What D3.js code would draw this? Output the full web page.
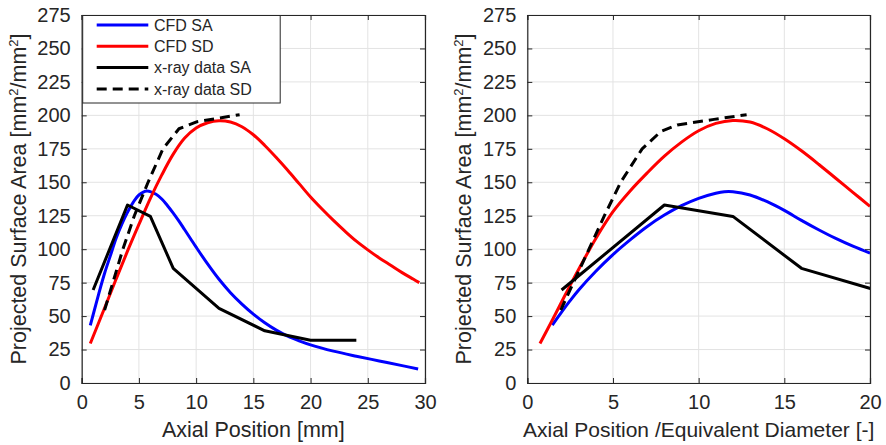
<!DOCTYPE html>
<html>
<head>
<meta charset="utf-8">
<script src="https://cdn.jsdelivr.net/npm/d3@7"></script>
<style>
  body { margin: 0; background: #fff; }
  svg { display: block; }
  text { font-family: "Liberation Sans", Arial, sans-serif; fill: #262626; }
</style>
</head>
<body>
<svg id="chart" width="886" height="445"></svg>
<script>
// y ticks are shared by both panels
const yTicks = d3.range(0, 276, 25);
const xTicksLeft = [0, 5, 10, 15, 20, 25, 30];
const xTicksRight = [0, 5, 10, 15, 20];

const seriesNames = ["CFD SA", "CFD SD", "x-ray data SA", "x-ray data SD"];

// left panel: axial position [mm]
const cfdSaLeftX = [0.75, 1, 1.5, 2, 2.5, 3, 3.5, 4, 4.5, 5, 5.7, 6.5, 7, 7.5, 8, 8.5, 9, 9.5, 10, 11, 12, 13, 14, 15, 16, 17, 18, 19, 20, 22, 24, 26, 28, 29.4];
const cfdSaLeftY = [43, 51, 67, 82, 95, 108, 118.5, 127.5, 135, 140.5, 143.5, 141, 137.5, 132.5, 127, 121, 114.5, 108, 101.5, 89, 77.5, 67.5, 59, 51.5, 45, 39.5, 35, 31.5, 28.5, 23.8, 20, 16.5, 13, 10.5];
const cfdSdLeftX = [0.75, 2, 3, 4, 5, 6, 7, 8, 9, 10, 11, 12, 13, 14, 15, 16, 17, 18, 19, 20, 21, 22, 23, 24, 25, 26, 27, 28, 29, 29.5];
const cfdSdLeftY = [29.5, 56, 77.5, 98.5, 118.5, 138, 155.5, 171, 183, 190.5, 194.5, 196, 195, 191.5, 185.5, 177.5, 168.5, 159, 149, 139, 130, 121.5, 113.5, 106, 99.5, 93.5, 88, 82.5, 77.5, 75];
const xraySaLeftX = [1, 4, 6, 8, 12, 16, 20, 24];
const xraySaLeftY = [69.5, 133, 124.5, 85.7, 55.8, 39, 32, 32];
const xraySdLeftX = [2, 3.6, 4.6, 5.8, 7.1, 8.5, 10.1, 11.9, 13.8];
const xraySdLeftY = [54.5, 100, 125, 150, 175, 190, 195.3, 197.8, 200.5];

// right panel: axial position / equivalent diameter
const cfdSaRightX = [1.46, 2, 2.5, 3, 4, 5, 6, 7, 8, 9, 10, 11, 11.5, 12, 13, 14, 15, 16, 17, 18, 19, 20];
const cfdSaRightY = [43.3, 53, 61.5, 69.5, 83.5, 96, 107, 117, 125.5, 132.5, 138, 141.8, 143, 143, 140.5, 135.5, 129, 121.5, 114.5, 108, 102.2, 97];
const cfdSdRightX = [0.74, 1.5, 2, 2.5, 3, 4, 5, 6, 7, 8, 9, 10, 11, 12, 13, 14, 15, 16, 17, 18, 19, 20];
const cfdSdRightY = [29.5, 48, 60.5, 73, 85, 108, 128, 143.5, 157, 169.5, 180, 188.5, 194, 196.2, 195, 190, 182.5, 173.5, 163.5, 153, 142.5, 132];
const xraySaRightX = [2, 8, 12, 16, 24];
const xraySaRightY = [69.5, 133, 124.5, 85.7, 55.8];
const xraySdRightX = [1.95, 3.6, 4.5, 5.45, 6.7, 7.8, 8.75, 10.9, 12.8];
const xraySdRightY = [54.5, 100, 125, 150, 175, 188, 192.8, 197, 200.5];

const zip = (xs, ys) => xs.map((x, i) => [x, ys[i]]);

const styles = [
  { color: "#0000ff", dash: null, smooth: true },
  { color: "#ff0000", dash: null, smooth: true },
  { color: "#000000", dash: null, smooth: false },
  { color: "#000000", dash: "10,6", smooth: false }
];

const svg = d3.select("#chart");
const axisColor = "#262626";

function drawPanel(p) {
  const { left, right, top, bottom, xMax, xTicks, series, xLabel, yLabelX, id, labelSize } = p;

  const x = d3.scaleLinear().domain([0, xMax]).range([left, right]);
  const y = d3.scaleLinear().domain([0, 275]).range([bottom, top]);

  const g = svg.append("g");

  // grid
  g.append("g").selectAll("line").data(xTicks).join("line")
    .attr("x1", d => x(d)).attr("x2", d => x(d))
    .attr("y1", top).attr("y2", bottom)
    .attr("stroke", "#e3e3e3").attr("stroke-width", 1);
  g.append("g").selectAll("line").data(yTicks).join("line")
    .attr("x1", left).attr("x2", right)
    .attr("y1", d => y(d)).attr("y2", d => y(d))
    .attr("stroke", "#e3e3e3").attr("stroke-width", 1);

  // clip to the axes box
  svg.append("clipPath").attr("id", id)
    .append("rect").attr("x", left).attr("y", top)
    .attr("width", right - left).attr("height", bottom - top);

  const lines = g.append("g").attr("clip-path", `url(#${id})`);
  series.forEach((s, i) => {
    const st = styles[i];
    const line = d3.line()
      .x(d => x(d[0])).y(d => y(d[1]))
      .curve(st.smooth ? d3.curveCatmullRom.alpha(0.5) : d3.curveLinear);
    lines.append("path")
      .datum(s)
      .attr("d", line)
      .attr("fill", "none")
      .attr("stroke", st.color)
      .attr("stroke-width", 3)
      .attr("stroke-linejoin", "round")
      .attr("stroke-dasharray", st.dash);
  });

  // axes, ticks inside like matlab
  const axBottom = g.append("g").attr("transform", `translate(0,${bottom})`)
    .call(d3.axisBottom(x).tickValues(xTicks).tickSize(-5).tickPadding(12).tickFormat(d3.format("d")));
  const axTop = g.append("g").attr("transform", `translate(0,${top})`)
    .call(d3.axisTop(x).tickValues(xTicks).tickSize(-5).tickFormat(""));
  const axLeft = g.append("g").attr("transform", `translate(${left},0)`)
    .call(d3.axisLeft(y).tickValues(yTicks).tickSize(-5).tickPadding(11).tickFormat(d3.format("d")));
  const axRight = g.append("g").attr("transform", `translate(${right},0)`)
    .call(d3.axisRight(y).tickValues(yTicks).tickSize(-5).tickFormat(""));

  [axBottom, axTop, axLeft, axRight].forEach(a => {
    a.select(".domain").attr("stroke", axisColor).attr("stroke-width", 1.2);
    a.selectAll(".tick line").attr("stroke", axisColor);
    a.selectAll("text").attr("font-size", 20).attr("fill", axisColor)
      .attr("font-family", "Liberation Sans, Arial, sans-serif");
  });

  // x label
  g.append("text")
    .attr("x", (left + right) / 2).attr("y", 437)
    .attr("text-anchor", "middle").attr("font-size", labelSize)
    .text(xLabel);

  // y label with superscripts
  const yl = g.append("text")
    .attr("transform", `translate(${yLabelX},${(top + bottom) / 2}) rotate(-90)`)
    .attr("text-anchor", "middle").attr("font-size", 21.5);
  yl.append("tspan").text("Projected Surface Area [mm");
  yl.append("tspan").attr("dy", -8).attr("font-size", 13).text("2");
  yl.append("tspan").attr("dy", 8).text("/mm");
  yl.append("tspan").attr("dy", -8).attr("font-size", 13).text("2");
  yl.append("tspan").attr("dy", 8).text("]");

  return { x, y, g };
}

const leftPanel = drawPanel({
  id: "clipL", left: 81.7, right: 425, top: 15, bottom: 383,
  xMax: 30, xTicks: xTicksLeft, xLabel: "Axial Position [mm]", yLabelX: 26, labelSize: 21.5,
  series: [zip(cfdSaLeftX, cfdSaLeftY), zip(cfdSdLeftX, cfdSdLeftY),
           zip(xraySaLeftX, xraySaLeftY), zip(xraySdLeftX, xraySdLeftY)]
});

drawPanel({
  id: "clipR", left: 527.3, right: 870, top: 15, bottom: 383,
  xMax: 20, xTicks: xTicksRight, xLabel: "Axial Position /Equivalent Diameter [-]", yLabelX: 471, labelSize: 21,
  series: [zip(cfdSaRightX, cfdSaRightY), zip(cfdSdRightX, cfdSdRightY),
           zip(xraySaRightX, xraySaRightY), zip(xraySdRightX, xraySdRightY)]
});

// legend in the left panel
const legend = leftPanel.g.append("g");
legend.append("rect")
  .attr("x", 82.7).attr("y", 15.5).attr("width", 197.5).attr("height", 87.5)
  .attr("fill", "#fff").attr("stroke", axisColor).attr("stroke-width", 1);
seriesNames.forEach((name, i) => {
  const cy = 25 + i * 21.3;
  legend.append("line")
    .attr("x1", 96.7).attr("x2", 148.3).attr("y1", cy).attr("y2", cy)
    .attr("stroke", styles[i].color).attr("stroke-width", 3)
    .attr("stroke-dasharray", styles[i].dash);
  legend.append("text")
    .attr("x", 154).attr("y", cy + 5.7)
    .attr("font-size", 16).attr("fill", "#000")
    .text(name);
});
</script>
</body>
</html>
